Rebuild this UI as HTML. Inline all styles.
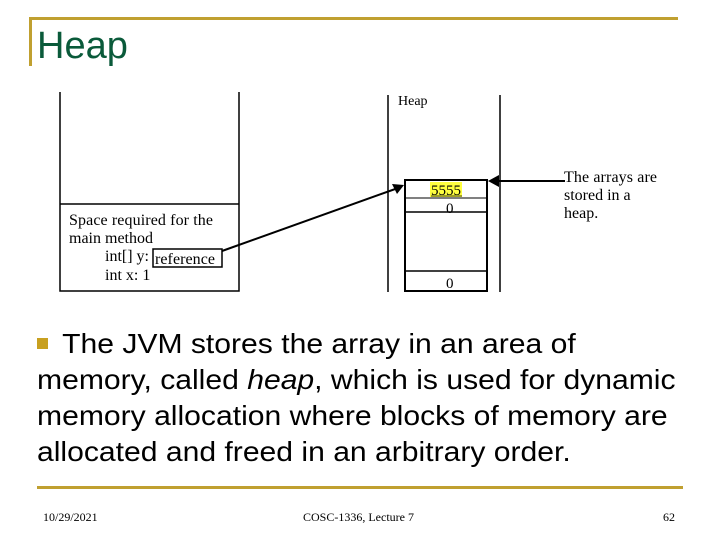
<!DOCTYPE html>
<html><head><style>
body{margin:0;width:720px;height:540px;background:#fff;position:relative;overflow:hidden;font-family:"Liberation Sans",sans-serif}
.t{position:absolute;white-space:nowrap}
</style></head><body>
<div style="position:absolute;left:29px;top:17px;width:649px;height:3px;background:#c0a030"></div>
<div style="position:absolute;left:29px;top:17px;width:3px;height:49px;background:#c0a030"></div>
<div class="t" style="left:37px;top:25px;font-size:38px;color:#0a5a3a">Heap</div>
<svg width="720" height="300" style="position:absolute;left:0;top:0" font-family="Liberation Serif" font-size="16">
<g stroke="#000" stroke-width="1.5" fill="none">
<polyline points="60,92 60,291 239,291 239,92"/>
<line x1="60" y1="204" x2="239" y2="204"/>
<line x1="388" y1="95" x2="388" y2="292"/>
<line x1="500" y1="95" x2="500" y2="292"/>
<rect x="405" y="180" width="82" height="111" stroke-width="2"/>
<line x1="405" y1="198" x2="487" y2="198" stroke-width="1"/>
<line x1="405" y1="212" x2="487" y2="212"/>
<line x1="405" y1="271" x2="487" y2="271"/>
<rect x="153" y="249" width="69" height="18"/>
<line x1="222" y1="251" x2="398" y2="188" stroke-width="2"/>
<line x1="565" y1="181" x2="494" y2="181" stroke-width="2"/>
</g>
<polygon points="404,185 392,184 397,194" fill="#000"/>
<polygon points="488,181 499,175 499,187" fill="#000"/>
<rect x="430" y="182" width="32" height="15" fill="#ffff40"/>
<text x="398" y="105" font-size="14">Heap</text>
<text x="431" y="195" font-size="15">5555</text>
<line x1="431" y1="196" x2="462" y2="196" stroke="#000" stroke-width="0.8"/>
<text x="446" y="213" font-size="15">0</text>
<text x="446" y="288" font-size="15">0</text>
<text x="69" y="225" textLength="144">Space required for the</text>
<text x="69" y="243">main method</text>
<text x="105" y="261">int[] y:</text>
<text x="155" y="264" textLength="60">reference</text>
<text x="105" y="280">int x: 1</text>
<text x="564" y="182" textLength="93">The arrays are</text>
<text x="564" y="200">stored in a</text>
<text x="564" y="218">heap.</text>
</svg>
<div style="position:absolute;left:37px;top:338px;width:11px;height:11px;background:#c8a020"></div>
<div class="t" style="left:37px;top:326px;font-size:28px;line-height:36px;color:#000;transform:scaleX(1.075);transform-origin:0 0">&nbsp;&nbsp;&nbsp;The JVM stores the array in an area of<br>memory, called <i>heap</i>, which is used for dynamic<br>memory allocation where blocks of memory are<br>allocated and freed in an arbitrary order.</div>
<div style="position:absolute;left:37px;top:486px;width:646px;height:3px;background:#c0a030"></div>
<div class="t" style="left:43px;top:510px;font-size:12px;font-family:'Liberation Serif',serif">10/29/2021</div>
<div class="t" style="left:303px;top:510px;font-size:12px;font-family:'Liberation Serif',serif">COSC-1336, Lecture 7</div>
<div class="t" style="left:663px;top:510px;font-size:12px;font-family:'Liberation Serif',serif">62</div>
</body></html>
